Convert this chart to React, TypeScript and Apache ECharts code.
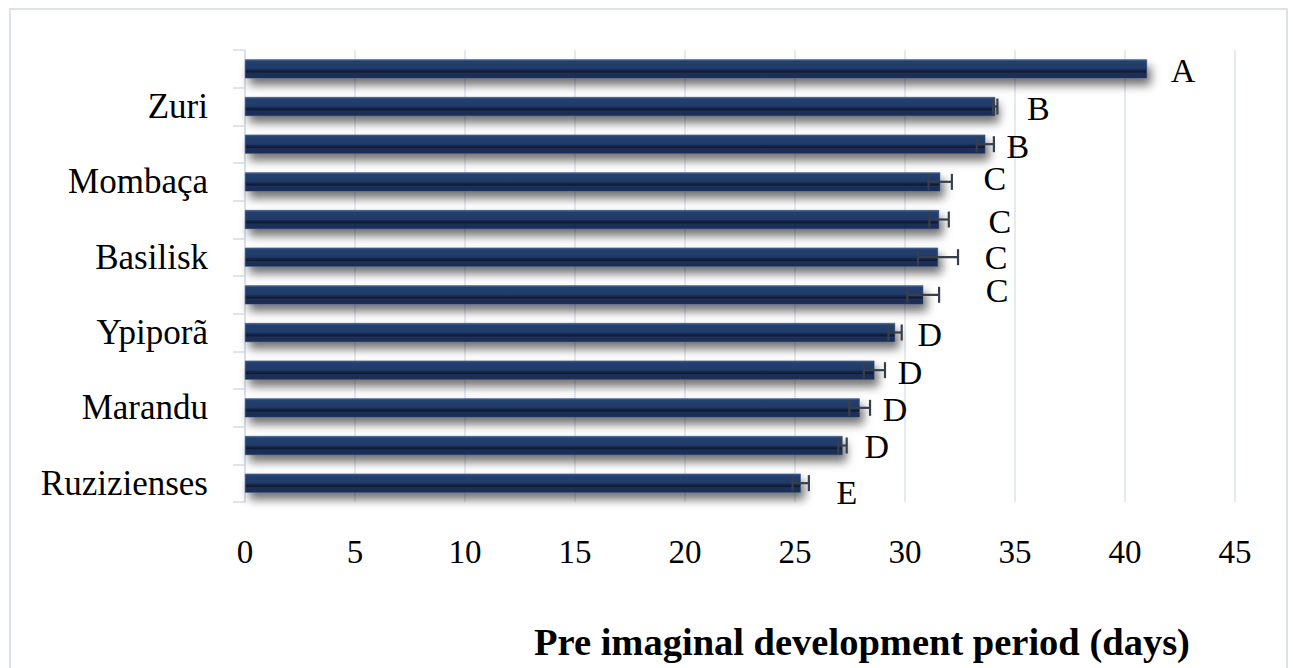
import React, { useEffect, useRef } from "react";
import * as echarts from "echarts";

// Cultivars from top to bottom; only every other row carries a name on the axis
const CULTIVAR_LABELS = ["", "Zuri", "", "Mombaça", "", "Basilisk", "", "Ypiporã", "", "Marandu", "", "Ruzizienses"];
// Mean pre imaginal development period (days)
const MEAN_DAYS = [41.0, 34.1, 33.65, 31.6, 31.55, 31.5, 30.83, 29.55, 28.61, 27.94, 27.16, 25.26];
// Standard error of each mean (days)
const STD_ERROR = [0, 0.1, 0.39, 0.53, 0.44, 0.91, 0.72, 0.3, 0.48, 0.47, 0.19, 0.37];
// Mean separation letters
const GROUP_LETTERS = ["A", "B", "B", "C", "C", "C", "C", "D", "D", "D", "D", "E"];
// Axis ticks
const X_MIN = 0;
const X_MAX = 45;
const X_STEP = 5;

// Small per-row nudges (px) of the letters from the end of the error bar
const LETTER_NUDGE: [number, number][] = [
  [36, 2], [41, 2], [24, 2], [43, -3], [51, 2], [38, 0],
  [58, -4], [28, 2], [25, 2], [25, 2], [30, 1], [38, 9],
];

const SERIF = "'Liberation Serif', 'Times New Roman', serif";
const GRID_COLOR = "#dde3ec";

const barFill = new echarts.graphic.LinearGradient(0, 0, 0, 1, [
  { offset: 0, color: "#516a96" },
  { offset: 0.09, color: "#24416f" },
  { offset: 0.5, color: "#1f3a68" },
  { offset: 0.56, color: "#16284b" },
  { offset: 0.68, color: "#0f1b34" },
  { offset: 0.74, color: "#1b3058" },
  { offset: 1, color: "#1a2d53" },
]);

export default function App() {
  const ref = useRef<HTMLDivElement>(null);

  useEffect(() => {
    if (!ref.current) return;
    const chart = echarts.init(ref.current, undefined, { renderer: "svg" });

    const errorData = MEAN_DAYS.map((v, i) => [v, i, STD_ERROR[i]]);

    chart.setOption({
      animation: false,
      backgroundColor: "#ffffff",
      grid: { left: 245, right: 58, top: 50, bottom: 166, containLabel: false },
      xAxis: {
        type: "value",
        min: X_MIN,
        max: X_MAX,
        interval: X_STEP,
        axisLine: { show: false },
        axisTick: { show: false },
        splitLine: { show: true, lineStyle: { color: GRID_COLOR, width: 1.5 } },
        axisLabel: {
          margin: 33,
          fontSize: 33,
          fontFamily: SERIF,
          color: "#000000",
        },
      },
      yAxis: {
        type: "category",
        inverse: true,
        data: CULTIVAR_LABELS,
        axisLine: { show: true, lineStyle: { color: "#d6dce6", width: 1.5 } },
        axisTick: { show: true, length: 12, lineStyle: { color: "#d6dce6", width: 1.5 } },
        splitLine: { show: false },
        axisLabel: {
          interval: 0,
          margin: 37,
          fontSize: 35,
          fontFamily: SERIF,
          color: "#000000",
        },
      },
      series: [
        {
          type: "bar",
          data: MEAN_DAYS,
          barWidth: 19,
          itemStyle: {
            color: barFill,
            borderColor: "#2c4470",
            borderWidth: 0.6,
            shadowBlur: 10,
            shadowOffsetX: 4,
            shadowOffsetY: 7,
            shadowColor: "rgba(0, 0, 0, 0.55)",
          },
          z: 2,
        },
        {
          type: "custom",
          data: errorData,
          encode: { x: 0, y: 1 },
          z: 5,
          renderItem: (params: any, api: any) => {
            const v = api.value(0);
            const idx = api.value(1);
            const e = api.value(2);
            const lo = api.coord([v - e, idx]);
            const hi = api.coord([v + e, idx]);
            const cy = lo[1];
            const cap = 8;
            const stroke = { stroke: "#373f4d", lineWidth: 2.2 };
            const children: any[] = [];
            if (e > 0) {
              children.push(
                { type: "line", shape: { x1: lo[0], y1: cy, x2: hi[0], y2: cy }, style: stroke },
                { type: "line", shape: { x1: lo[0], y1: cy - cap, x2: lo[0], y2: cy + cap }, style: stroke },
                { type: "line", shape: { x1: hi[0], y1: cy - cap, x2: hi[0], y2: cy + cap }, style: stroke }
              );
            }
            const nudge = LETTER_NUDGE[params.dataIndex];
            children.push({
              type: "text",
              style: {
                text: GROUP_LETTERS[params.dataIndex],
                x: hi[0] + nudge[0],
                y: cy + nudge[1],
                align: "center",
                verticalAlign: "middle",
                fontSize: 34,
                fontFamily: SERIF,
                fill: "#000000",
              },
            });
            return { type: "group", children };
          },
        },
      ],
      graphic: [
        {
          type: "rect",
          shape: { x: 10, y: 9, width: 1277, height: 700 },
          style: { fill: "none", stroke: "#dde1ea", lineWidth: 2 },
          silent: true,
          z: -1,
        },
        {
          type: "text",
          x: 862,
          y: 642,
          style: {
            text: "Pre imaginal development period (days)",
            align: "center",
            verticalAlign: "middle",
            fontSize: 38.5,
            fontWeight: "bold",
            fontFamily: SERIF,
            fill: "#000000",
          },
        },
      ],
    });

    return () => chart.dispose();
  }, []);

  return (
    <div
      ref={ref}
      style={{ position: "absolute", left: 0, top: 0, width: 1293, height: 668 }}
    />
  );
}
